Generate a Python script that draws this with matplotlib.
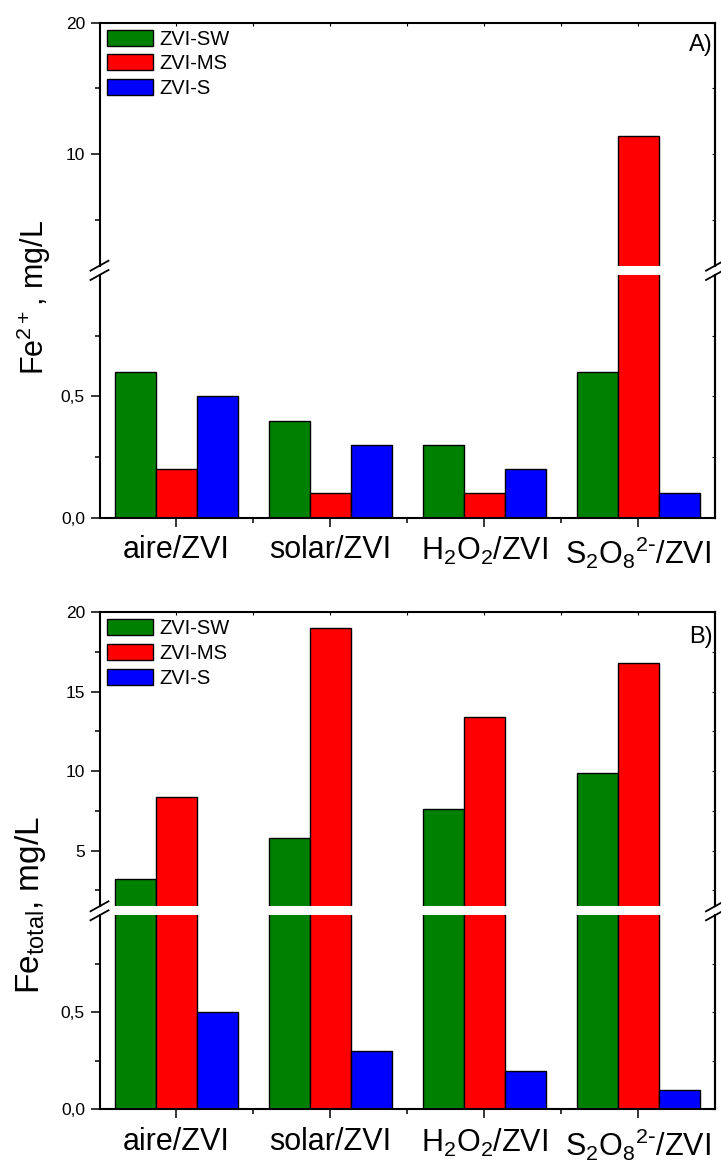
import numpy as np
import matplotlib
matplotlib.use('Agg')
import matplotlib.pyplot as plt
from matplotlib.ticker import FixedLocator, FuncFormatter
from matplotlib.patches import Patch

plt.rcParams['font.family'] = ['Liberation Sans', 'DejaVu Sans']
plt.rcParams['mathtext.default'] = 'regular'

categories = ['aire/ZVI', 'solar/ZVI', 'H$_2$O$_2$/ZVI',
              'S$_2$O$_8$$^{2\\text{-}}$/ZVI']
series = ['ZVI-SW', 'ZVI-MS', 'ZVI-S']
colors = ['#008000', '#ff0000', '#0000ff']

# panel A: Fe2+ (mg/L)
fe2_sw = [0.6, 0.4, 0.3, 0.6]
fe2_ms = [0.2, 0.1, 0.1, 11.4]
fe2_s = [0.5, 0.3, 0.2, 0.1]

# panel B: Fe total (mg/L)
fet_sw = [3.2, 5.8, 7.6, 9.9]
fet_ms = [8.4, 19.0, 13.4, 16.8]
fet_s = [0.5, 0.3, 0.2, 0.1]

W, H = 721, 1162
fig = plt.figure(figsize=(W / 100, H / 100), dpi=100)

left = 99.5 / W
width = 615.5 / W


def box(top_px, bot_px):
    return [left, 1 - bot_px / H, width, (bot_px - top_px) / H]


comma = FuncFormatter(lambda v, p: ('%.1f' % v).replace('.', ','))
intfmt = FuncFormatter(lambda v, p: '%d' % v)


def panel(top_box, bot_box, data, major_up, minor_up, tag, ylabel, lab_xy, lab_size):
    ax_up = fig.add_axes(top_box)
    ax_lo = fig.add_axes(bot_box)
    x = np.arange(1, len(categories) + 1)
    bw = 0.8 / 3
    for ax in (ax_up, ax_lo):
        for i, vals in enumerate(data):
            ax.bar(x + (i - 1) * bw, vals, bw, color=colors[i],
                   edgecolor='black', linewidth=1.0, label=series[i])
        ax.set_xlim(0.5, 4.5)
        for s in ax.spines.values():
            s.set_linewidth(1.5)
    ax_up.set_ylim(1.5, 20)
    ax_lo.set_ylim(0, 1.0)
    ax_up.spines['bottom'].set_visible(False)
    ax_lo.spines['top'].set_visible(False)

    ax_up.yaxis.set_major_locator(FixedLocator(major_up))
    ax_up.yaxis.set_minor_locator(FixedLocator(minor_up))
    ax_up.yaxis.set_major_formatter(intfmt)
    ax_lo.yaxis.set_major_locator(FixedLocator([0, 0.5]))
    ax_lo.yaxis.set_minor_locator(FixedLocator([0.25, 0.75]))
    ax_lo.yaxis.set_major_formatter(comma)

    for ax in (ax_up, ax_lo):
        ax.tick_params(axis='y', which='major', direction='out', length=6.5,
                       width=1.1, labelsize=12.5, pad=4)
        ax.tick_params(axis='y', which='minor', direction='out', length=3.5,
                       width=1.1)
        sec = ax.secondary_yaxis('right')
        sec.set_yticks(ax.get_yticks(), labels=[])
        sec.yaxis.set_minor_locator(ax.yaxis.get_minor_locator())
        sec.tick_params(which='both', direction='in', length=2, width=0.8)
        sec.spines['right'].set_linewidth(1.5)

    ax_lo.set_xticks(x)
    ax_lo.set_xticklabels(categories, fontsize=22)
    ax_lo.xaxis.set_minor_locator(FixedLocator([1.5, 2.5, 3.5]))
    ax_lo.tick_params(axis='x', which='major', direction='out', length=6.5,
                      width=1.1, pad=6)
    ax_lo.tick_params(axis='x', which='minor', direction='out', length=3.5,
                      width=1.1)

    ax_up.set_xticks(x)
    ax_up.xaxis.set_minor_locator(FixedLocator([1.5, 2.5, 3.5]))
    ax_up.tick_params(axis='x', which='both', bottom=False, top=True,
                      labelbottom=False, direction='in', length=2, width=0.8)

    # break marks
    up_h = top_box[3] * H
    lo_h = bot_box[3] * H
    dx = 9 / (width * W)
    for ax, y0, hpx in ((ax_up, 0, up_h), (ax_lo, 1, lo_h)):
        dy = 5 / hpx
        for xx in (0, 1):
            ax.plot([xx - dx, xx + dx], [y0 - dy, y0 + dy], color='black',
                    lw=1.3, transform=ax.transAxes, clip_on=False)

    handles = [Patch(facecolor=colors[i], edgecolor='black', linewidth=1.0,
                     label=series[i]) for i in range(3)]
    ax_up.legend(handles=handles, loc='upper left', frameon=False,
                 fontsize=14.5, handlelength=2.3, handleheight=0.85,
                 handletextpad=0.3, labelspacing=0.28, borderaxespad=0.0,
                 borderpad=0.35)
    ax_up.text(0.997, 0.955, tag, transform=ax_up.transAxes, ha='right',
               va='top', fontsize=17)

    fig.text(lab_xy[0] / W, 1 - lab_xy[1] / H, ylabel, rotation=90,
             ha='center', va='center', fontsize=lab_size)


panel(box(22.7, 265.7), box(275, 517.7), [fe2_sw, fe2_ms, fe2_s],
      [10, 20], [5, 15], 'A)', 'Fe$^{2+}$, mg/L', (34, 297), 22)
panel(box(612.3, 906.3), box(915.3, 1109.3), [fet_sw, fet_ms, fet_s],
      [5, 10, 15, 20], [2.5, 7.5, 12.5, 17.5], 'B)', 'Fe$_{total}$, mg/L',
      (31, 905), 24)

fig.savefig('out.png', dpi=100)
